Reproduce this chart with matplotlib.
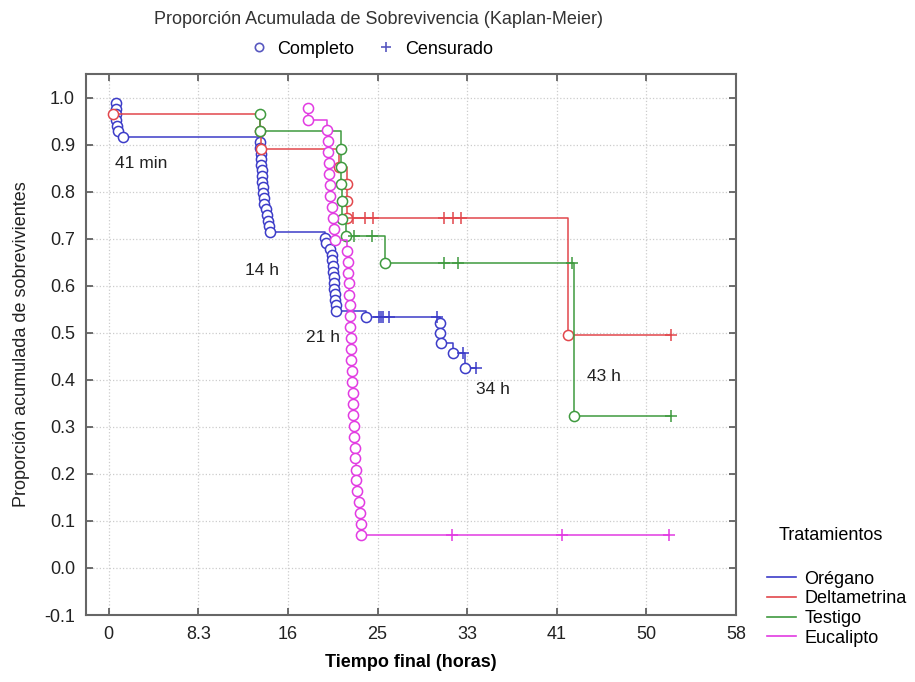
import numpy as np
import matplotlib
matplotlib.use('Agg')
import matplotlib.pyplot as plt
from matplotlib.lines import Line2D

plt.rcParams['font.family'] = ['Liberation Sans', 'DejaVu Sans']

# Orégano
t_oregano = [0.65, 0.68, 0.70, 0.72, 0.75, 0.90, 1.28,
             14.0, 14.0, 14.05, 14.1, 14.1, 14.15, 14.2, 14.2, 14.25, 14.3, 14.35, 14.4, 14.5, 14.6, 14.7, 14.8, 14.95,
             20.0, 20.1, 20.5, 20.6, 20.6, 20.7, 20.7, 20.8, 20.8, 20.85, 20.9, 20.9, 21.0, 21.0,
             23.8, 30.6, 30.65, 30.7, 31.8, 32.9]
s_oregano = [0.988, 0.976, 0.964, 0.952, 0.940, 0.929, 0.917,
             0.905, 0.893, 0.881, 0.869, 0.857, 0.845, 0.833, 0.821, 0.810, 0.798, 0.786, 0.774, 0.762, 0.750, 0.738, 0.726, 0.714,
             0.702, 0.690, 0.678, 0.666, 0.654, 0.642, 0.630, 0.618, 0.606, 0.594, 0.582, 0.570, 0.558, 0.546,
             0.534, 0.520, 0.499, 0.479, 0.456, 0.424]
c_oregano = [25.0, 25.2, 25.4, 25.9, 30.4, 32.8, 34.0]

# Deltametrina
t_delta = [0.42, 14.0, 14.05, 21.3, 22.0, 22.0, 22.05, 42.5]
s_delta = [0.964, 0.929, 0.891, 0.853, 0.816, 0.779, 0.743, 0.495]
c_delta = [22.6, 23.7, 24.4, 31.0, 31.8, 32.6, 52.0]

# Testigo
t_testigo = [14.0, 14.0, 21.5, 21.5, 21.5, 21.55, 21.55, 21.9, 25.5, 43.0]
s_testigo = [0.964, 0.928, 0.891, 0.853, 0.816, 0.779, 0.741, 0.706, 0.648, 0.323]
c_testigo = [22.7, 24.3, 31.0, 32.3, 42.8, 52.0]

# Eucalipto
t_euca = [18.4, 18.4, 20.2, 20.3, 20.3, 20.4, 20.4, 20.5, 20.5, 20.6, 20.7, 20.8, 20.9,
          22.0, 22.1, 22.1, 22.2, 22.2, 22.3, 22.3, 22.3, 22.4, 22.4, 22.4, 22.5, 22.5,
          22.6, 22.6, 22.6, 22.7, 22.7, 22.8, 22.8, 22.9, 22.9, 23.0, 23.1, 23.2, 23.3, 23.35]
s_euca = [0.977, 0.953, 0.930, 0.907, 0.884, 0.860, 0.837, 0.814, 0.791, 0.767, 0.744, 0.721, 0.698,
          0.674, 0.651, 0.628, 0.605, 0.581, 0.558, 0.535, 0.512, 0.488, 0.465, 0.442, 0.419, 0.395,
          0.372, 0.349, 0.326, 0.302, 0.279, 0.256, 0.233, 0.209, 0.186, 0.163, 0.140, 0.116, 0.093, 0.070]
c_euca = [31.7, 41.9, 51.8]

names = ['Orégano', 'Deltametrina', 'Testigo', 'Eucalipto']
colors = ['#3c3cc8', '#e2474c', '#3f9a3f', '#e23be2']
series = [(t_oregano, s_oregano, c_oregano), (t_delta, s_delta, c_delta),
          (t_testigo, s_testigo, c_testigo), (t_euca, s_euca, c_euca)]

xtick_pos = [i * 58 / 7 for i in range(8)]
xtick_lab = ['0', '8.3', '16', '25', '33', '41', '50', '58']
ytick_pos = np.round(np.arange(-0.1, 1.01, 0.1), 1)

fig = plt.figure(figsize=(9.15, 6.82), dpi=100)
ax = fig.add_axes([86 / 915, 1 - 615 / 682, (736 - 86) / 915, (615 - 74) / 682])

for (t, s, c), col in zip(series, colors):
    t = np.array(t)
    s = np.array(s)
    c = np.array(c)
    cy = s[np.searchsorted(t, c, side='right') - 1]
    xs = np.append(t, c.max()) if c.max() > t.max() else t
    ys = np.append(s, s[-1]) if c.max() > t.max() else s
    ax.step(xs, ys, where='post', color=col, lw=1.1)
    ax.plot(t, s, 'o', mfc='white', mec=col, ms=7.3, mew=1.1, ls='none')
    ax.plot(c, cy, '+', color=col, ms=8, mew=1.1, ls='none')

ax.set_xlim(-2.1, 58)
ax.set_ylim(-0.1, 1.05)
ax.set_xticks(xtick_pos)
ax.set_xticklabels(xtick_lab)
ax.set_yticks(ytick_pos)
ax.set_yticklabels([f'{v:.1f}' for v in ytick_pos])
ax.tick_params(direction='in', length=5, width=1.2, color='#555555', labelsize=13,
               top=True, right=True, pad=8, labelcolor='#222222')
ax.grid(True, ls=':', color='#cccccc', lw=0.9)
for sp in ax.spines.values():
    sp.set_color('#666666')
    sp.set_linewidth(1.5)

ax.set_xlabel('Tiempo final (horas)', fontsize=13, fontweight='bold', labelpad=8)
ax.set_ylabel('Proporción acumulada de sobrevivientes', fontsize=13, labelpad=10, color='#222222')

# annotations
ax.text(0.6, 0.86, '41 min', fontsize=12.5, ha='left', va='center', color='#222222')
ax.text(14.2, 0.633, '14 h', fontsize=12.5, ha='center', va='center', color='#222222')
ax.text(19.8, 0.489, '21 h', fontsize=12.5, ha='center', va='center', color='#222222')
ax.text(35.5, 0.380, '34 h', fontsize=12.5, ha='center', va='center', color='#222222')
ax.text(45.8, 0.406, '43 h', fontsize=12.5, ha='center', va='center', color='#222222')

fig.text(379 / 915, 1 - 19 / 682, 'Proporción Acumulada de Sobrevivencia (Kaplan-Meier)',
         ha='center', va='center', fontsize=13, color='#333333')
top_handles = [Line2D([], [], ls='none', marker='o', mfc='none', mec='#5858c0', ms=6, mew=1.2),
               Line2D([], [], ls='none', marker='+', color='#5858c0', ms=7, mew=1.2)]
fig.legend(top_handles, ['Completo', 'Censurado'], ncol=2, loc='center',
           bbox_to_anchor=(369 / 915, 1 - 49 / 682), frameon=False, fontsize=13,
           handletextpad=0.3, columnspacing=1.0, handlelength=1.5)

fig.text(831 / 915, 1 - 535 / 682, 'Tratamientos', ha='center', va='center', fontsize=13)
leg_handles = [Line2D([], [], color=c, lw=1.2) for c in colors]
fig.legend(leg_handles, names, loc='upper left', bbox_to_anchor=(754 / 915, 1 - 558 / 682),
           frameon=False, fontsize=13, handlelength=1.6, handletextpad=0.5,
           labelspacing=0.15, borderpad=0.2)

fig.savefig('out.png', dpi=100)
